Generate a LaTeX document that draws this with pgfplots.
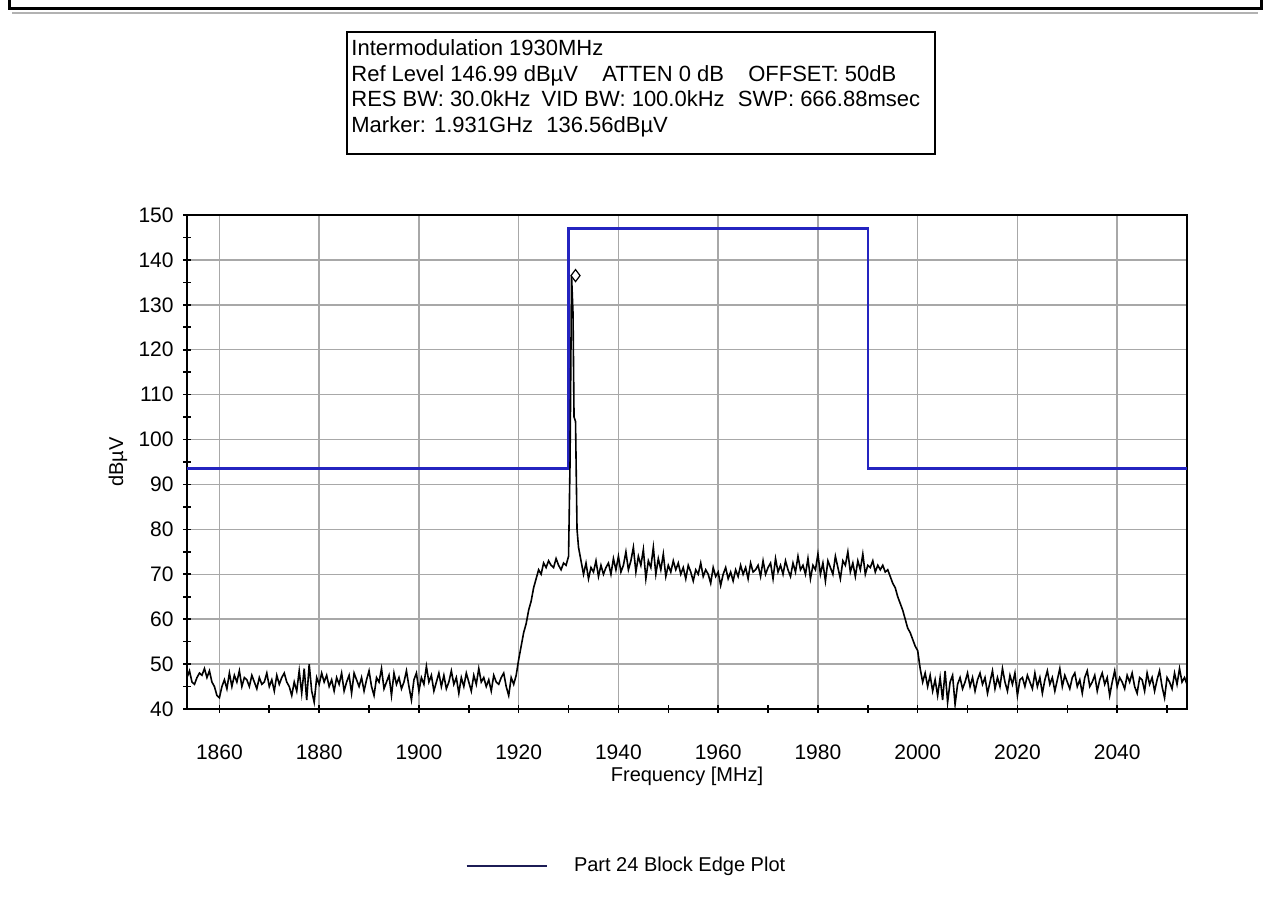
\documentclass[border=0pt]{standalone}
\usepackage{pgfplots}
\pgfplotsset{compat=1.18}
\usepackage{fontspec}
\setmainfont{Liberation Sans}
\definecolor{edgeblue}{HTML}{2424C0}
\definecolor{legnavy}{HTML}{1C1C55}
\definecolor{gridgray}{HTML}{A8A8A8}
\begin{document}
\begin{tikzpicture}[x=0.5pt,y=0.5pt]
\path[use as bounding box] (0,0) rectangle (1268,898);
\draw[line width=1.5pt] (9,898) -- (9,889) -- (1261,889) -- (1261,898);
\draw[gray!60, line width=0.6pt] (12,885) -- (1258,885);
\draw[line width=1pt] (347,866) rectangle (935,744);
\begin{scope}[every node/.style={anchor=base west, inner sep=0pt, font=\fontsize{11}{13}\selectfont}]
\node at (351,842) {Intermodulation 1930MHz};
\node at (351,816.5) {Ref Level 146.99 dBµV\hspace{1.1em}ATTEN 0 dB\hspace{1.1em}OFFSET: 50dB};
\node at (351,791) {RES BW: 30.0kHz\hspace{0.5em}VID BW: 100.0kHz\hspace{0.6em}SWP: 666.88msec};
\node at (351,765.5) {Marker: 1.931GHz\hspace{0.6em}136.56dBµV};
\end{scope}
\begin{axis}[
  at={(93.5pt,94.5pt)}, anchor=south west,
  scale only axis, width=500pt, height=247pt,
  xmin=1853.5, xmax=2054, ymin=40, ymax=150,
  xtick={1860,1880,...,2040}, minor xtick={1870,1890,...,2050},
  ytick={40,50,...,150}, minor ytick={45,55,...,145},
  grid=major, major grid style={gridgray, line width=0.7pt},
  tick align=center, major tick length=4pt, minor tick length=4pt,
  xtick pos=bottom, ytick pos=left,
  axis line style={line width=1pt},
  every tick/.style={black, line width=0.8pt},
  tick label style={font=\fontsize{10.5}{12}\selectfont},
  /pgf/number format/assume math mode=true,
  /pgf/number format/1000 sep={},
  xticklabel style={anchor=center, inner sep=0pt, yshift=-19.5pt},
  yticklabel style={anchor=east, inner sep=0pt, xshift=-4.5pt},
  ylabel={dBµV}, ylabel style={at={(axis description cs:-0.069,0.5)}, anchor=center, font=\fontsize{10}{12}\selectfont},
  xlabel={Frequency [MHz]}, xlabel style={at={(axis description cs:0.5,-0.136)}, anchor=center, font=\fontsize{10}{12}\selectfont},
  legend style={at={(axis description cs:0.278,-0.318)}, anchor=west, draw=none, fill=none, inner sep=0pt,
     nodes={inner sep=0pt}, font=\fontsize{10}{12}\selectfont},
  legend image code/.code={\draw[legnavy,line width=1.3pt] (0pt,0pt) -- (40pt,0pt);},
]
\addplot[edgeblue, line width=1.3pt] coordinates {(1853.5,93.5) (1930,93.5) (1930,147) (1990,147) (1990,93.5) (2054,93.5)};
\addlegendentry{\hspace{13pt}Part 24 Block Edge Plot}
\addplot[black, line width=0.8pt, forget plot] coordinates {
(1853.5,47) (1854,48.5) (1854.5,46) (1855,45.5) (1855.5,47) (1856,48) (1856.5,47.5) (1857,49) (1857.5,47) (1858,48.5)
(1858.5,46) (1859,45) (1859.5,43) (1860,42.5) (1860.5,45) (1861,46.5) (1861.5,44.5) (1862,48) (1862.5,45) (1863,47.5)
(1863.5,46) (1864,48.5) (1864.5,45) (1865,47) (1865.5,46.5) (1866,45) (1866.5,47.5) (1867,46) (1867.5,44.5) (1868,47)
(1868.5,45.5) (1869,46) (1869.5,48) (1870,45) (1870.5,46.5) (1871,44) (1871.5,47.5) (1872,45.5) (1872.5,47) (1873,48)
(1873.5,46) (1874,45) (1874.5,43) (1875,46) (1875.5,44) (1876,48.5) (1876.5,43.5) (1877,49) (1877.5,42) (1878,50)
(1878.5,44) (1879,41.5) (1879.5,47) (1880,45.5) (1880.5,48) (1881,46) (1881.5,47.5) (1882,45) (1882.5,46.5) (1883,44)
(1883.5,47) (1884,45.5) (1884.5,48) (1885,44) (1885.5,46) (1886,47.5) (1886.5,43.5) (1887,48) (1887.5,46.5) (1888,45)
(1888.5,47) (1889,44) (1889.5,46.5) (1890,48.5) (1890.5,45) (1891,43) (1891.5,47) (1892,46) (1892.5,49) (1893,44.5)
(1893.5,46) (1894,47.5) (1894.5,43) (1895,48) (1895.5,45.5) (1896,47) (1896.5,44.5) (1897,46) (1897.5,48.5) (1898,45)
(1898.5,42) (1899,46.5) (1899.5,48) (1900,44) (1900.5,47) (1901,45.5) (1901.5,49.5) (1902,46) (1902.5,47.5) (1903,44)
(1903.5,46) (1904,48) (1904.5,45) (1905,47.5) (1905.5,44.5) (1906,46) (1906.5,48.5) (1907,45.5) (1907.5,47) (1908,43.5)
(1908.5,47) (1909,45) (1909.5,48) (1910,46) (1910.5,44) (1911,47.5) (1911.5,45.5) (1912,49) (1912.5,46) (1913,47)
(1913.5,45) (1914,46.5) (1914.5,44) (1915,47.5) (1915.5,46) (1916,45.5) (1916.5,47) (1917,48) (1917.5,45) (1918,43)
(1918.5,47) (1919,45.5) (1919.5,47.5)
(1920,51) (1920.5,54) (1921,57) (1921.5,59) (1922,62) (1922.5,64) (1923,67) (1923.5,69) (1924,71) (1924.5,70)
(1925,72.5) (1925.5,71.5) (1926,73) (1926.5,72) (1927,71.5) (1927.5,73.5) (1928,72) (1928.5,71) (1929,72.5) (1929.5,72) (1930,74)
(1930.3,95) (1930.6,136.56) (1930.9,128) (1931.1,105) (1931.4,104) (1931.7,80) (1932,76) (1932.5,73)
(1933,70) (1933.5,72.5) (1934,69) (1934.5,71.5) (1935,70.5) (1935.5,73) (1936,69.5) (1936.5,72) (1937,70) (1937.5,71.5)
(1938,72.5) (1938.5,70) (1939,73.5) (1939.5,71) (1940,74) (1940.5,70.5) (1941,72) (1941.5,75) (1942,71) (1942.5,73)
(1943,76) (1943.5,70.5) (1944,74) (1944.5,72) (1945,75.5) (1945.5,69) (1946,73) (1946.5,71.5) (1947,76) (1947.5,70)
(1948,73.5) (1948.5,71) (1949,74.5) (1949.5,69.5) (1950,72) (1950.5,70.5) (1951,73) (1951.5,71) (1952,72.5) (1952.5,70)
(1953,71.5) (1953.5,69) (1954,72) (1954.5,70.5) (1955,68.5) (1955.5,71) (1956,70) (1956.5,72.5) (1957,69.5) (1957.5,71)
(1958,70) (1958.5,68) (1959,71.5) (1959.5,69.5) (1960,70.5) (1960.5,67.5) (1961,70) (1961.5,71.5) (1962,69) (1962.5,70.5)
(1963,68.5) (1963.5,71) (1964,69.5) (1964.5,72) (1965,70) (1965.5,71.5) (1966,69) (1966.5,72.5) (1967,70.5) (1967.5,71)
(1968,72) (1968.5,69.5) (1969,73) (1969.5,70) (1970,71.5) (1970.5,72.5) (1971,69) (1971.5,73.5) (1972,70.5) (1972.5,72)
(1973,70) (1973.5,73) (1974,71) (1974.5,69.5) (1975,72.5) (1975.5,70.5) (1976,74) (1976.5,71) (1977,72) (1977.5,70)
(1978,73.5) (1978.5,69) (1979,72) (1979.5,71) (1980,74.5) (1980.5,70) (1981,72.5) (1981.5,68.5) (1982,73) (1982.5,71.5)
(1983,70) (1983.5,74) (1984,71.5) (1984.5,69) (1985,73) (1985.5,72) (1986,75) (1986.5,70.5) (1987,72.5) (1987.5,69.5)
(1988,73) (1988.5,71) (1989,74.5) (1989.5,70) (1990,72) (1990.5,71.5) (1991,73) (1991.5,70.5) (1992,72) (1992.5,71)
(1993,72) (1993.5,70.5) (1994,71)
(1994.5,69.5) (1995,68) (1995.5,67) (1996,65) (1996.5,63.5) (1997,62) (1997.5,60) (1998,58) (1998.5,57) (1999,55.5) (1999.5,54) (2000,53) (2000.5,49) (2001,46)
(2001.5,48) (2002,45) (2002.5,47.5) (2003,44) (2003.5,46.5) (2004,43) (2004.5,47) (2005,42) (2005.5,48.5) (2006,41.5)
(2006.5,46) (2007,47.5) (2007.5,41) (2008,45.5) (2008.5,47) (2009,44.5) (2009.5,46) (2010,48) (2010.5,45) (2011,47)
(2011.5,44) (2012,46.5) (2012.5,48) (2013,45.5) (2013.5,47) (2014,43.5) (2014.5,46) (2015,48.5) (2015.5,44.5) (2016,47)
(2016.5,45) (2017,49) (2017.5,46) (2018,44) (2018.5,47.5) (2019,45.5) (2019.5,48) (2020,43) (2020.5,46.5) (2021,47)
(2021.5,45) (2022,47.5) (2022.5,46) (2023,44.5) (2023.5,48) (2024,45) (2024.5,47) (2025,43.5) (2025.5,46.5) (2026,48.5)
(2026.5,45.5) (2027,47) (2027.5,44) (2028,46.5) (2028.5,49) (2029,45) (2029.5,47.5) (2030,46) (2030.5,44.5) (2031,47)
(2031.5,48) (2032,45) (2032.5,46.5) (2033,43.5) (2033.5,47) (2034,48.5) (2034.5,45) (2035,46) (2035.5,47.5) (2036,44)
(2036.5,46.5) (2037,48) (2037.5,45.5) (2038,47) (2038.5,43) (2039,46) (2039.5,48.5) (2040,45) (2040.5,47) (2041,46)
(2041.5,44.5) (2042,47.5) (2042.5,46) (2043,48) (2043.5,45) (2044,43.5) (2044.5,47) (2045,46.5) (2045.5,44) (2046,48)
(2046.5,45.5) (2047,47) (2047.5,44) (2048,46.5) (2048.5,48.5) (2049,45) (2049.5,42.5) (2050,47) (2050.5,46) (2051,44.5)
(2051.5,48) (2052,45.5) (2052.5,49) (2053,46) (2053.5,47) (2054,45.5)
};
\addplot[only marks, mark=diamond*, mark size=3pt, mark options={fill=white, draw=black, line width=0.6pt}, forget plot] coordinates {(1931.4,136.5)};
\end{axis}
\end{tikzpicture}
\end{document}
